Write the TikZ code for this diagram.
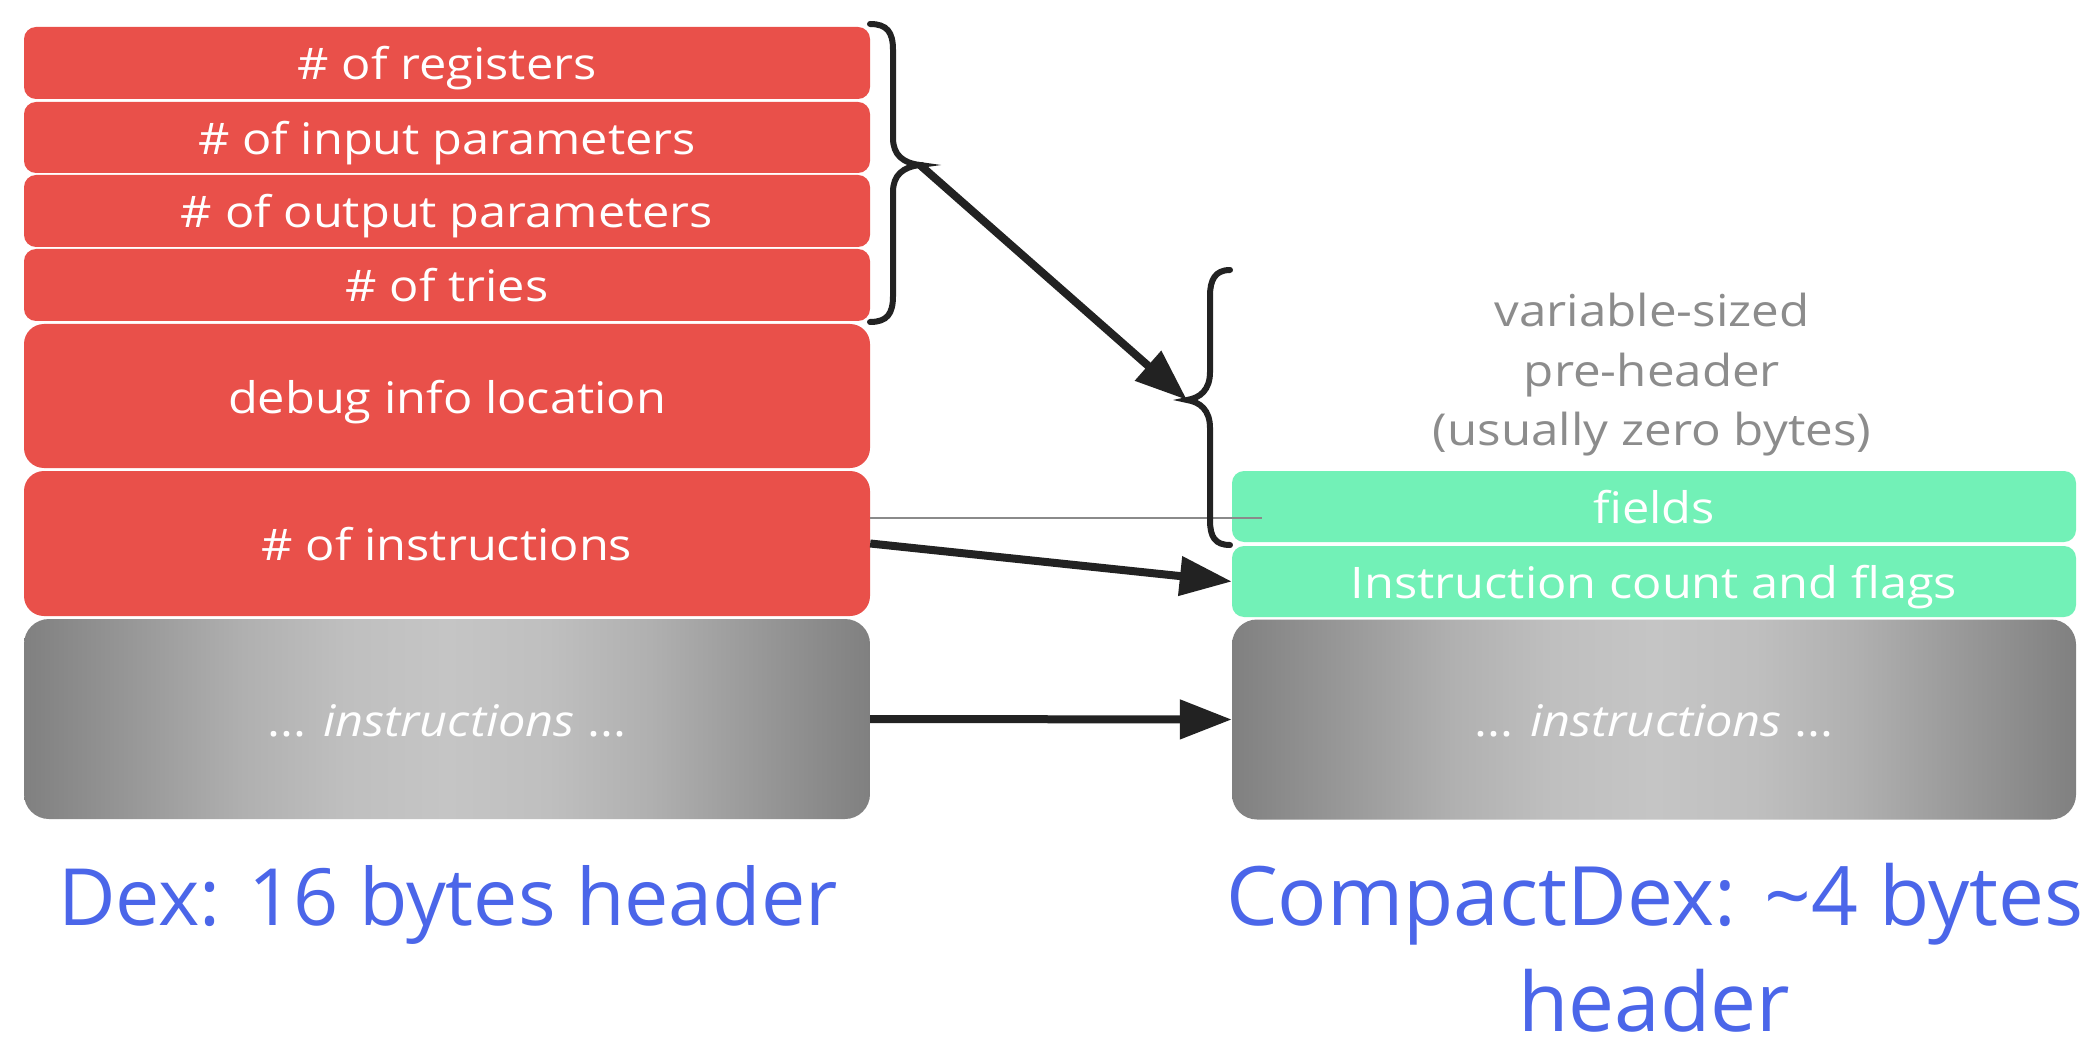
\documentclass[tikz,border=0pt]{standalone}
\usepackage{fontspec}
\setmainfont{Open Sans}
\newfontfamily\boxfont{Open Sans}[FakeStretch=1.12]
\usetikzlibrary{arrows.meta}
\definecolor{boxred}{HTML}{E9504A}
\definecolor{boxgreen}{HTML}{72F1B7}
\definecolor{labelblue}{HTML}{4B66E9}
\definecolor{notegray}{HTML}{8C8C8C}
\definecolor{arrowdark}{HTML}{222222}
\definecolor{gA}{RGB}{128,128,128}
\definecolor{gB}{RGB}{150,150,150}
\definecolor{gC}{RGB}{176,176,176}
\definecolor{gD}{RGB}{191,191,191}
\definecolor{gE}{RGB}{197,197,197}
\definecolor{thinline}{HTML}{8A8A8A}
\pgfdeclarehorizontalshading{grayband}{100bp}{color(0bp)=(gA); color(25bp)=(gA);
  color(31bp)=(gB); color(38bp)=(gC); color(44bp)=(gD); color(50bp)=(gE);
  color(56bp)=(gD); color(62bp)=(gC); color(69bp)=(gB); color(75bp)=(gA); color(100bp)=(gA)}
\begin{document}
\begin{tikzpicture}[x=1pt,y=-1pt,
  field/.style={rectangle, inner sep=0pt, text=white,
    font=\boxfont\fontsize{43.5}{50}\selectfont, text height=34pt, text depth=0pt},
  leftcol/.style={minimum width=846pt},
  rightcol/.style={minimum width=844pt},
  redfield/.style={field, fill=boxred, rounded corners=12pt},
  redbig/.style={field, fill=boxred, rounded corners=20pt},
  greenfield/.style={field, fill=boxgreen, rounded corners=12pt},
  grayfield/.style={field, rounded corners=25pt, shading=grayband, minimum height=200pt},
  conn/.style={draw=arrowdark, line width=8pt,
    -{Triangle[length=52pt,width=38pt]}},
  bracestyle/.style={draw=arrowdark, line width=6pt, line cap=round},
  note/.style={text=notegray, font=\boxfont\fontsize{44}{59.5}\selectfont},
  title/.style={text=labelblue, font=\fontsize{82}{113}\selectfont, inner sep=0pt, anchor=base}
]
\useasboundingbox[fill=white] (0,0) rectangle (2098,1048);

% left column
\node[redfield, leftcol, minimum height=72pt] (reg) at (447,63) {\# of registers};
\node[redfield, leftcol, minimum height=71pt] (inp) at (447,137.5) {\# of input parameters};
\node[redfield, leftcol, minimum height=72pt] (outp) at (447,211) {\# of output parameters};
\node[redfield, leftcol, minimum height=72pt] (tries) at (447,285) {\# of tries};
\node[redbig, leftcol, minimum height=144pt] (debug) at (447,396) {debug info location};
\node[redbig, leftcol, minimum height=145pt] (ninstr) at (447,543.5) {\# of instructions};
\node[grayfield, leftcol] (lgray) at (447,719) {... \textit{instructions} ...};

% right column
\node[greenfield, rightcol, minimum height=71pt] (fields) at (1654,506.5) {fields};
\node[greenfield, rightcol, minimum height=71pt] (icf) at (1654,581.5) {Instruction count and flags};
\node[grayfield, rightcol] (rgray) at (1654,719.5) {... \textit{instructions} ...};

% note
\node[note, align=center] (pre) at (1652,375) {variable-sized\\pre-header\\(usually zero bytes)};

% thin line
\coordinate (thinA) at (870,518);
\coordinate (thinB) at (1262,518);
\draw[thinline, line width=1.5pt] (thinA) -- (thinB);

% brace 1
\coordinate (b1tip) at (920,165);
\draw[bracestyle] (870,24) .. controls (887,24) and (893,32) .. (893,50)
  -- (893,138) .. controls (893,155) and (903,163) .. (b1tip)
  .. controls (903,167) and (893,175) .. (893,192)
  -- (893,296) .. controls (893,314) and (887,322) .. (870,322);

% brace 2
\coordinate (b2tip) at (1187,400);
\draw[bracestyle] (1230,270) .. controls (1215,270) and (1210,280) .. (1210,296)
  -- (1210,372) .. controls (1210,390) and (1200,398) .. (b2tip)
  .. controls (1200,402) and (1210,410) .. (1210,428)
  -- (1210,520) .. controls (1210,537) and (1215,545) .. (1230,545);

% connectors
\draw[conn] (b1tip) -- (b2tip);
\draw[conn] (ninstr.east) -- (icf.west);
\draw[conn] (lgray.east) -- (rgray.west);

% titles
\node[title, font=\fontsize{79}{113}\selectfont] (dexlbl) at (448,925) {Dex: 16 bytes header};
\node[title] (cdlbl1) at (1655,925) {CompactDex: \textasciitilde4 bytes};
\node[title, text depth=0pt] (cdlbl2) at (1654,1031) {header};
\end{tikzpicture}
\end{document}
